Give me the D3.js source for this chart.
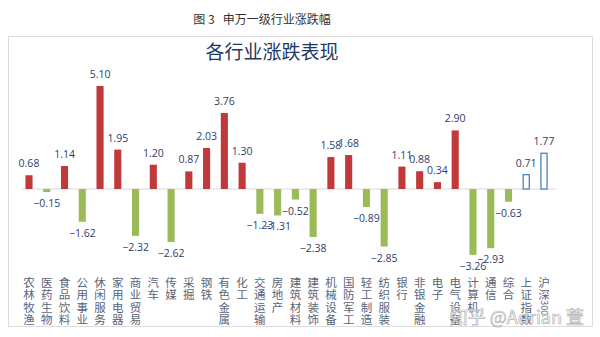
<!DOCTYPE html>
<html><head><meta charset="utf-8">
<script src="https://cdn.jsdelivr.net/npm/d3@7/dist/d3.min.js"></script>
<style>html,body{margin:0;padding:0;background:#fff;}svg{display:block;}</style>
</head><body>
<svg id="c" width="600" height="337"></svg>
<script>
const categories = ["农林牧渔","医药生物","食品饮料","公用事业","休闲服务","家用电器","商业贸易","汽车","传媒","采掘","钢铁","有色金属","化工","交通运输","房地产","建筑材料","建筑装饰","机械设备","国防军工","轻工制造","纺织服装","银行","非银金融","电子","电气设备","计算机","通信","综合","上证指数","沪深300"];
const changes = [0.68,-0.15,1.14,-1.62,5.10,1.95,-2.32,1.20,-2.62,0.87,2.03,3.76,1.30,-1.23,-1.31,-0.52,-2.38,1.58,1.68,-0.89,-2.85,1.11,0.88,0.34,2.90,-3.26,-2.93,-0.63,0.71,1.77];
const indexNames = ["上证指数","沪深300"];
const figTitle = "图 3   申万一级行业涨跌幅";
const chartTitle = "各行业涨跌表现";
const watermark = "知乎 @Adrian 萱";

const svg = d3.select("#c");
const font = "'Noto Sans CJK SC','Noto Sans',sans-serif";

svg.append("text").attr("x",262).attr("y",24).attr("text-anchor","middle")
  .attr("font-family",font).attr("font-size",12).attr("fill","#333")
  .attr("xml:space","preserve").text(figTitle);

svg.append("rect").attr("x",8.5).attr("y",36.5).attr("width",584).attr("height",290)
  .attr("fill","#fff").attr("stroke","#dcdcdc").attr("stroke-width",1);

svg.append("text").attr("x",272).attr("y",59).attr("text-anchor","middle")
  .attr("font-family",font).attr("font-size",19).attr("fill","#1f3864").text(chartTitle);

const step = (544-29)/29;
const x = d3.scaleBand().domain(categories)
  .range([29-step/2, 544+step/2]).paddingInner(0.6).paddingOuter(0.3);
const y = d3.scaleLinear().domain([-3.5,5.5]).range([189+3.5*20.2, 189-5.5*20.2]);

svg.append("line").attr("x1",22).attr("x2",556).attr("y1",y(0)).attr("y2",y(0))
  .attr("stroke","#d9d9d9").attr("stroke-width",1);

const data = categories.map((c,i)=>({c, v:changes[i], idx: indexNames.includes(c)}));

svg.append("g").selectAll("rect").data(data).join("rect")
  .attr("x",d=>d.idx ? x(d.c)+0.5 : x(d.c))
  .attr("width",d=>d.idx ? x.bandwidth()-1 : x.bandwidth())
  .attr("y",d=>y(Math.max(0,d.v)))
  .attr("height",d=>Math.abs(y(d.v)-y(0)))
  .attr("fill",d=>d.idx ? "#fff" : (d.v>=0 ? "#c0393b" : "#9bbb59"))
  .attr("stroke",d=>d.idx ? "#4f81bd" : "none")
  .attr("stroke-width",d=>d.idx ? 1.3 : 0);

svg.append("g").selectAll("text").data(data).join("text")
  .attr("x",d=>x(d.c)+x.bandwidth()/2)
  .attr("y",d=>d.v>=0 ? y(d.v)-8 : y(d.v)+15)
  .attr("text-anchor","middle")
  .attr("font-family","'Open Sans','Noto Sans',sans-serif").attr("font-size",10.5)
  .attr("fill","#2f4068")
  .text(d=>d3.format(".2f")(d.v));

// category labels: one text per category, characters stacked as tspans
const lab = svg.append("g");
data.forEach(d=>{
  const cx = x(d.c)+x.bandwidth()/2;
  const chars = d.c==="沪深300" ? ["沪","深"] : Array.from(d.c);
  const t = lab.append("text").attr("text-anchor","middle").attr("font-family",font)
    .attr("font-size",11.5).attr("fill","#5a6478");
  chars.forEach((ch,j)=>{
    t.append("tspan").attr("x",cx).attr("y",287+j*12.4).text(ch);
  });
  if (d.c==="沪深300") {
    const yy = 287+2*12.4-4;
    lab.append("text").attr("x",cx).attr("y",yy).attr("dy","0.35em")
      .attr("text-anchor","middle").attr("font-family",font).attr("font-size",9)
      .attr("fill","#5a6478").attr("transform",`rotate(90,${cx},${yy})`).text("300");
  }
});

svg.append("text").attr("x",584).attr("y",324).attr("text-anchor","end")
  .attr("font-family",font).attr("font-size",18)
  .attr("fill","rgba(255,255,255,0.55)").attr("stroke","#b4b4b4").attr("stroke-width",0.7)
  .text(watermark);
</script>
</body></html>
